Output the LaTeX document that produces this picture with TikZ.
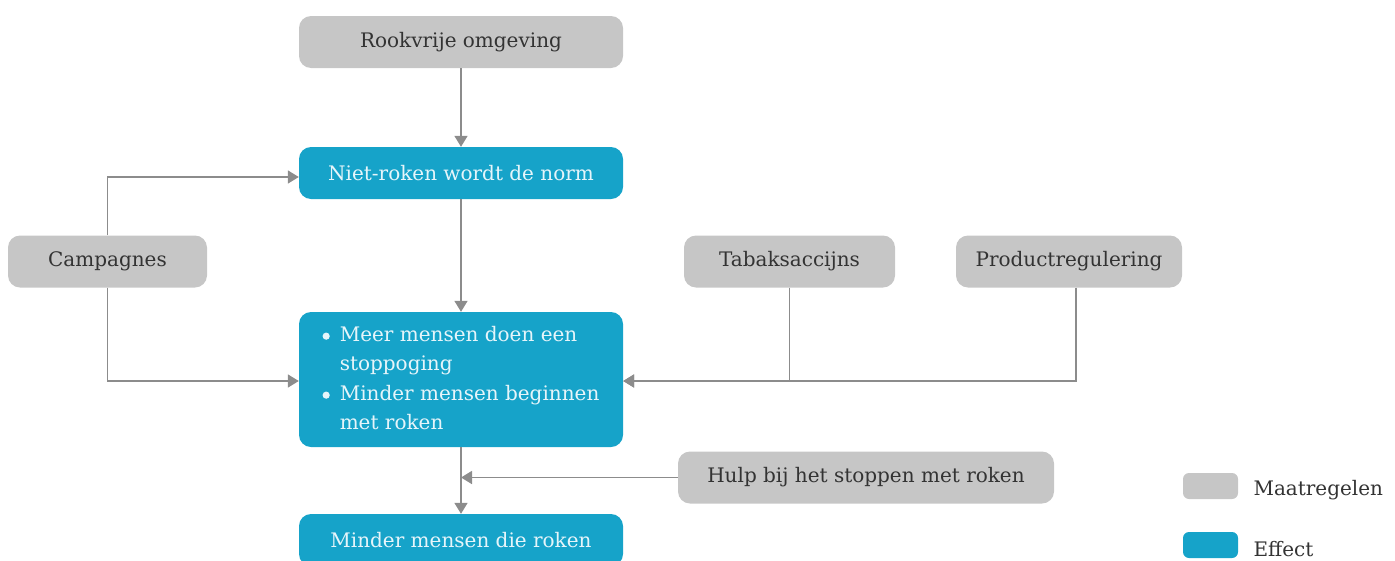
\documentclass[tikz,border=0pt]{standalone}
\usepackage{fontspec}
\setmainfont{DejaVu Serif}
\usetikzlibrary{arrows.meta}

\definecolor{maatgray}{HTML}{C6C6C6}
\definecolor{effectblue}{HTML}{16A3C9}
\definecolor{linegray}{HTML}{8C8C8C}
\definecolor{darktext}{HTML}{333333}
\definecolor{lighttext}{HTML}{E6F5FA}

\newcommand{\dotitem}{\tikz[baseline=-5pt]\fill (0,0) circle (3.6pt);}

\begin{document}
\begin{tikzpicture}[
    x=1pt, y=-1pt,
    >={Triangle[length=11pt, width=13pt]},
    maat/.style={rectangle, rounded corners=12pt, fill=maatgray, minimum height=52pt, align=center, text=darktext, font=\fontsize{20}{24}\selectfont},
    effect/.style={rectangle, rounded corners=12pt, fill=effectblue, minimum width=324pt, minimum height=52pt, align=center, text=lighttext, font=\fontsize{20}{24}\selectfont},
    link/.style={draw=linegray, line width=1.6pt, ->},
    swatch/.style={rectangle, rounded corners=6pt, minimum width=55pt, minimum height=26pt, inner sep=0pt},
    legtext/.style={anchor=west, text=darktext, font=\fontsize{20}{24}\selectfont}
]
\useasboundingbox (0,0) rectangle (1395,560);
\clip (0,0) rectangle (1395,560);

% Effects
\node[maat, minimum width=324pt] (rookvrij) at (461, 42) {Rookvrije omgeving};
\node[effect] (norm) at (461, 173) {Niet-roken wordt de norm};
\node[effect, minimum height=135pt, font=\fontsize{20}{29.5}\selectfont] (stop) at (461, 379.5) {%
  \begin{tabular}{@{}l@{\hspace{10pt}}l@{}}
  \dotitem & Meer mensen doen een\\
           & stoppoging\\
  \dotitem & Minder mensen beginnen\\
           & met roken
  \end{tabular}};
\node[effect] (minder) at (461, 540) {Minder mensen die roken};

% Measures
\node[maat, minimum width=199pt] (camp) at (107.5, 261.5) {Campagnes};
\node[maat, minimum width=211pt] (accijns) at (789.5, 261.5) {Tabaksaccijns};
\node[maat, minimum width=226pt] (product) at (1069, 261.5) {Productregulering};
\node[maat, minimum width=376pt] (hulp) at (866, 477.5) {Hulp bij het stoppen met roken};

% Connections
\draw[link] (rookvrij) -- (norm);
\draw[link] (norm) -- (stop);
\draw[link] (stop) -- (minder);
\draw[link] (camp.north) |- ([yshift=-4pt]norm.west);
\draw[link] (camp.south) |- ([yshift=-1.5pt]stop.west);
\draw[link] (accijns.south) |- ([yshift=-1.5pt]stop.east);
\draw[link] ([xshift=7pt]product.south) |- ([yshift=-1.5pt]stop.east);
\draw[link] (hulp.west) -- (hulp.west -| stop.south);

% Legend
\node[swatch, fill=maatgray] (legmaat) at (1210.5, 486) {};
\node[legtext] (legmaattext) at (1250, 490) {Maatregelen};
\node[swatch, fill=effectblue] (legeffect) at (1210.5, 545) {};
\node[legtext] (legeffecttext) at (1250, 549) {Effect};

\end{tikzpicture}
\end{document}
